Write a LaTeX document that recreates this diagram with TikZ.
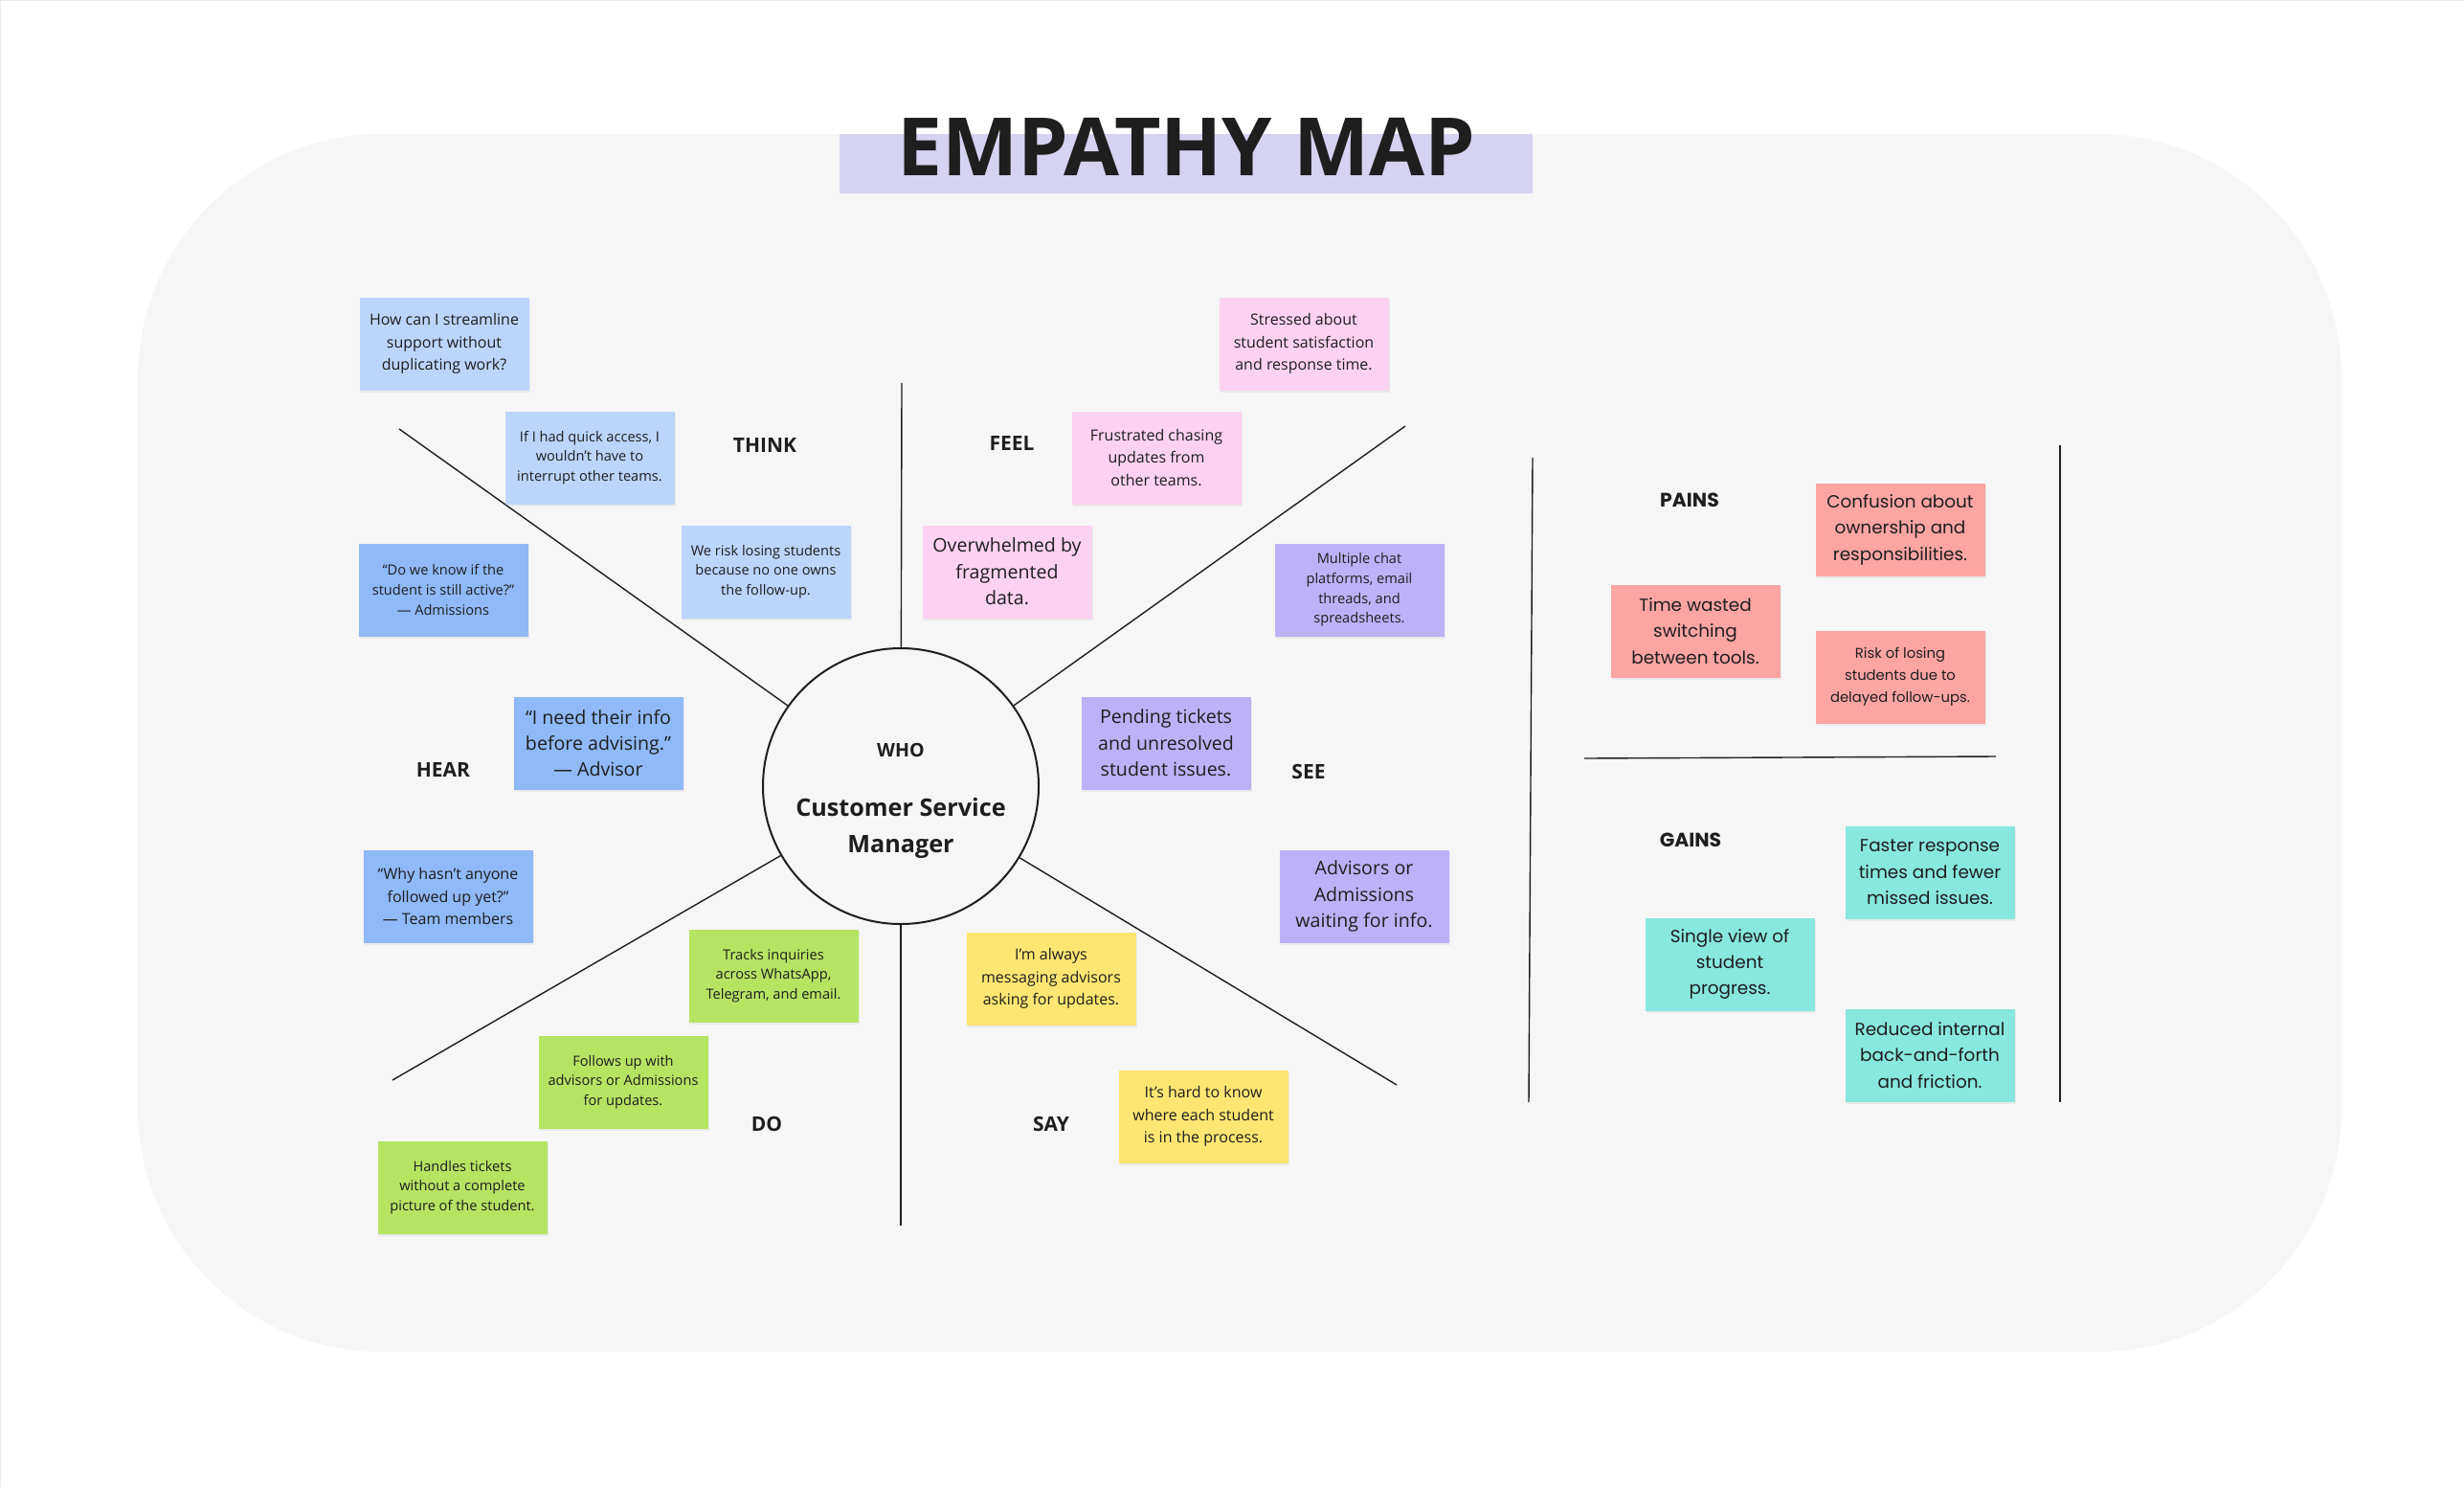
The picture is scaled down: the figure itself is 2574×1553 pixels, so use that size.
\documentclass[tikz,border=0pt]{standalone}
\usepackage{fontspec}
\setmainfont{Open Sans}
\newfontfamily\panelfont{Poppins}
\usepackage{tikz}
\usetikzlibrary{positioning,shadows}

\definecolor{ink}{HTML}{1E1E1E}
\definecolor{bgpanel}{HTML}{F6F6F6}
\definecolor{titlebg}{HTML}{D5D2F2}
\definecolor{thinkblue}{HTML}{BBD5FC}
\definecolor{hearblue}{HTML}{90B9F7}
\definecolor{feelpink}{HTML}{FDD2F0}
\definecolor{seepurple}{HTML}{BDB2F8}
\definecolor{dogreen}{HTML}{B5E463}
\definecolor{sayyellow}{HTML}{FFE672}
\definecolor{painred}{HTML}{FCA5A3}
\definecolor{gainteal}{HTML}{88E7DF}

\begin{document}
\begin{tikzpicture}[
  x=0.5pt, y=-0.5pt,
  note/.style={rectangle,minimum width=88.5pt,minimum height=48.5pt,inner sep=1pt,align=center,text=ink,
    drop shadow={shadow xshift=0.8pt,shadow yshift=-1.2pt,opacity=0.10}},
  txtsm/.style={font=\fontsize{7.3}{10.3}\selectfont},
  txtmd/.style={font=\fontsize{8}{11.6}\selectfont},
  txtlg/.style={font=\fontsize{9.8}{13.7}\selectfont},
  txtpanel/.style={font=\panelfont\fontsize{9.2}{13.7}\selectfont},
  txtpanelsm/.style={font=\panelfont\fontsize{7.4}{11.6}\selectfont},
  think/.style={note,fill=thinkblue},
  hear/.style={note,fill=hearblue},
  feel/.style={note,fill=feelpink},
  see/.style={note,fill=seepurple},
  do/.style={note,fill=dogreen},
  say/.style={note,fill=sayyellow},
  pain/.style={note,fill=painred},
  gain/.style={note,fill=gainteal},
  tag/.style={font=\bfseries\fontsize{10.5}{12}\selectfont,text=ink},
  paneltag/.style={font=\panelfont\bfseries\fontsize{10.2}{12}\selectfont,text=ink},
  spoke/.style={draw=ink,line width=0.7pt}
]
\useasboundingbox (0,0) rectangle (2574,1553);
\fill[white] (0,0) rectangle (2574,1553);
\draw[black!8,line width=1pt] (0,1553) -- (0,0) -- (2574,0);

% background panel and title
\fill[bgpanel,rounded corners=127.5pt] (144,140) rectangle (2446,1412);
\node[fill=titlebg,minimum width=362pt,minimum height=31pt,inner sep=0pt] (titlebar) at (1239,171) {};
\node[anchor=base,font=\bfseries\fontsize{42}{44}\selectfont,text=ink] (title) at (1239,183) {EMPATHY MAP};

% centre
\node[circle,draw=ink,line width=1pt,fill=bgpanel,minimum size=144pt,inner sep=0pt] (who) at (941,821) {};
\node[anchor=base,font=\bfseries\fontsize{9.8}{12}\selectfont,text=ink] (whotag) at (941,790) {WHO};
\node[anchor=base,font=\bfseries\fontsize{12.6}{19}\selectfont,text=ink,align=center] (role) at (941,890) {Customer Service\\Manager};

\coordinate (up) at (942,400);
\coordinate (down) at (941,1280);
\coordinate (ul) at (417,448);
\coordinate (ur) at (1468,445);
\coordinate (ll) at (410,1128);
\coordinate (lr) at (1459,1133);
\draw[spoke] (who) -- (up);
\draw[spoke] (who) -- (down);
\draw[spoke] (who) -- (ul);
\draw[spoke] (who) -- (ur);
\draw[spoke] (who) -- (ll);
\draw[spoke] (who) -- (lr);

% quadrant labels
\node[tag] (think) at (799,465) {THINK};
\node[tag] (feel) at (1057,463) {FEEL};
\node[tag] (hear) at (463,804) {HEAR};
\node[tag] (see) at (1367,806) {SEE};
\node[tag] (do) at (801,1174) {DO};
\node[tag] (say) at (1098,1174) {SAY};

% think
\node[think,txtmd] (t1) at (464,359) {How can I streamline\\support without\\duplicating work?};
\node[think,txtsm] (t2) at (616,478) {If I had quick access, I\\wouldn’t have to\\interrupt other teams.};
\node[think,txtsm] (t3) at (800,597) {We risk losing students\\because no one owns\\the follow-up.};
% hear
\node[hear,txtsm] (h1) at (463,616) {“Do we know if the\\student is still active?”\\— Admissions};
\node[hear,txtlg] (h2) at (625,776) {“I need their info\\before advising.”\\— Advisor};
\node[hear,txtmd] (h3) at (468,936) {“Why hasn’t anyone\\followed up yet?”\\— Team members};
% feel
\node[feel,txtmd] (f1) at (1362,359) {Stressed about\\student satisfaction\\and response time.};
\node[feel,txtmd] (f2) at (1208,478) {Frustrated chasing\\updates from\\other teams.};
\node[feel,txtlg] (f3) at (1052,597) {Overwhelmed by\\fragmented\\data.};
% see
\node[see,txtsm] (s1) at (1420,616) {Multiple chat\\platforms, email\\threads, and\\spreadsheets.};
\node[see,txtlg] (s2) at (1218,776) {Pending tickets\\and unresolved\\student issues.};
\node[see,txtlg] (s3) at (1425,936) {Advisors or\\Admissions\\waiting for info.};
% do
\node[do,txtsm] (d1) at (808,1019) {Tracks inquiries\\across WhatsApp,\\Telegram, and email.};
\node[do,txtsm] (d2) at (651,1130) {Follows up with\\advisors or Admissions\\for updates.};
\node[do,txtsm] (d3) at (483,1240) {Handles tickets\\without a complete\\picture of the student.};
% say
\node[say,txtmd] (y1) at (1098,1022) {I’m always\\messaging advisors\\asking for updates.};
\node[say,txtmd] (y2) at (1257,1166) {It’s hard to know\\where each student\\is in the process.};

% pains and gains
\coordinate (pnlA) at (1601,478);
\coordinate (pnlB) at (1597,1151);
\coordinate (pnlC) at (2152,465);
\coordinate (pnlD) at (2152,1151);
\coordinate (midL) at (1655,792);
\coordinate (midR) at (2085,790);
\draw[spoke] (pnlA) -- (pnlB);
\draw[spoke] (pnlC) -- (pnlD);
\draw[spoke] (midL) -- (midR);

\node[paneltag] (pains) at (1765,522) {PAINS};
\node[paneltag] (gains) at (1766,877) {GAINS};
\node[pain,txtpanel] (p1) at (1985,553) {Confusion about\\ownership and\\responsibilities.};
\node[pain,txtpanel] (p2) at (1771,659) {Time wasted\\switching\\between tools.};
\node[pain,txtpanelsm] (p3) at (1985,707) {Risk of losing\\students due to\\delayed follow-ups.};
\node[gain,txtpanel] (g1) at (2016,911) {Faster response\\times and fewer\\missed issues.};
\node[gain,txtpanel] (g2) at (1807,1007) {Single view of\\student\\progress.};
\node[gain,txtpanel] (g3) at (2016,1102) {Reduced internal\\back-and-forth\\and friction.};
\end{tikzpicture}
\end{document}
